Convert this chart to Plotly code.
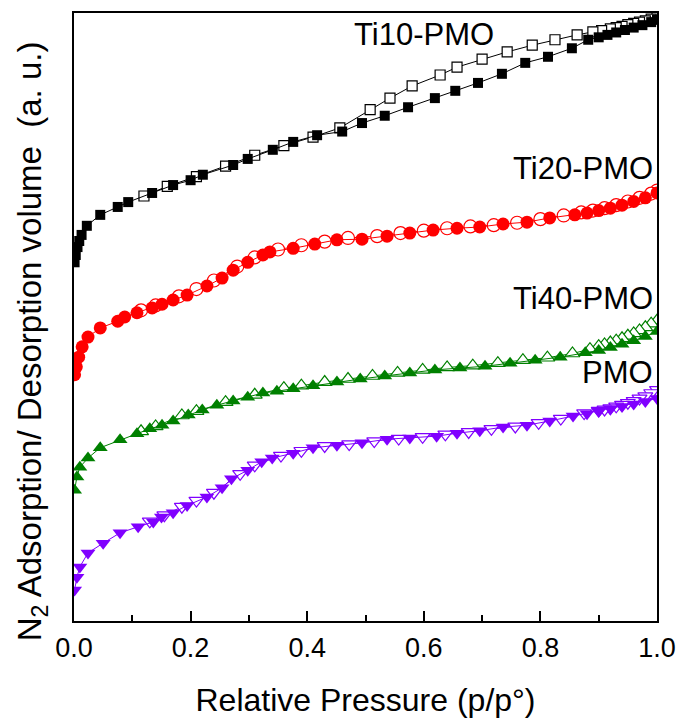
import plotly.graph_objects as go

# Relative pressure (p/p0) and volume (a.u., curves offset for display)
ti10_ads_p = [0.001, 0.003, 0.006, 0.009, 0.013, 0.022, 0.045, 0.075, 0.093, 0.134, 0.17, 0.2, 0.221, 0.273, 0.298,
              0.341, 0.376, 0.417, 0.46, 0.494, 0.533, 0.573, 0.619, 0.654, 0.693, 0.734, 0.774, 0.813, 0.854, 0.882,
              0.9, 0.915, 0.93, 0.945, 0.96, 0.975, 0.99, 1.0]
ti10_ads_v = [59.0, 60.2, 61.5, 62.5, 63.5, 65.0, 66.8, 68.1, 68.9, 70.4, 71.7, 72.5, 73.4, 75.0, 76.0,
              77.5, 78.8, 79.9, 80.5, 81.9, 83.1, 84.5, 86.0, 87.2, 88.5, 90.0, 91.8, 92.8, 94.2, 95.6,
              96.0, 96.4, 96.8, 97.2, 97.6, 98.0, 98.5, 98.9]
ti10_des_p = [1.0, 0.99, 0.98, 0.97, 0.96, 0.95, 0.94, 0.93, 0.92, 0.905, 0.89, 0.863, 0.825, 0.786, 0.743, 0.70,
              0.657, 0.628, 0.58, 0.542, 0.508, 0.456, 0.41, 0.36, 0.31, 0.26, 0.21, 0.16, 0.12]
ti10_des_v = [99.3, 99.0, 98.7, 98.5, 98.3, 98.1, 97.8, 97.6, 97.4, 97.1, 96.9, 96.4, 95.6, 94.7, 93.6, 92.4,
              91.1, 89.8, 88.0, 86.0, 84.1, 81.1, 79.6, 78.2, 76.6, 74.8, 73.1, 71.5, 69.9]

ti20_ads_p = [0.001, 0.004, 0.008, 0.014, 0.024, 0.045, 0.075, 0.087, 0.108, 0.134, 0.151, 0.17, 0.194, 0.228,
              0.254, 0.273, 0.298, 0.324, 0.336, 0.376, 0.413, 0.451, 0.494, 0.537, 0.576, 0.616, 0.657, 0.696,
              0.736, 0.777, 0.816, 0.859, 0.88, 0.9, 0.92, 0.94, 0.96, 0.98, 1.0]
ti20_ads_v = [40.5, 41.8, 43.4, 45.1, 46.7, 48.2, 49.3, 50.0, 50.7, 51.5, 52.1, 52.8, 53.6, 55.1,
              56.4, 57.7, 59.0, 60.2, 60.7, 61.3, 62.0, 62.7, 62.8, 63.3, 63.8, 64.3, 64.6, 64.8,
              65.3, 65.6, 66.3, 66.8, 67.1, 67.5, 67.9, 68.4, 69.0, 69.6, 70.4]
ti20_des_p = [1.0, 0.99, 0.97, 0.95, 0.93, 0.91, 0.89, 0.87, 0.84, 0.8, 0.76, 0.72, 0.68, 0.64, 0.6, 0.56,
              0.52, 0.47, 0.43, 0.39, 0.35, 0.31, 0.28, 0.24, 0.21, 0.18, 0.14, 0.115]
ti20_des_v = [70.8, 70.3, 69.6, 69.0, 68.4, 67.9, 67.5, 67.2, 66.7, 66.1, 65.5, 65.1, 64.9, 64.6, 64.2, 63.8,
              63.3, 63.0, 62.4, 61.8, 61.1, 59.8, 58.3, 56.0, 54.6, 53.4, 51.9, 51.1]

ti40_ads_p = [0.001, 0.005, 0.01, 0.024, 0.045, 0.079, 0.108, 0.13, 0.151, 0.17, 0.196, 0.22, 0.245, 0.273,
              0.298, 0.324, 0.348, 0.376, 0.41, 0.451, 0.491, 0.533, 0.576, 0.619, 0.662, 0.705, 0.748, 0.791,
              0.834, 0.877, 0.9, 0.92, 0.94, 0.96, 0.98, 1.0]
ti40_ads_v = [21.5, 23.7, 25.3, 26.8, 28.5, 29.8, 30.8, 31.6, 32.2, 32.9, 33.9, 34.7, 35.5, 36.2,
              36.8, 37.5, 37.8, 38.2, 38.7, 39.3, 39.8, 40.3, 40.8, 41.3, 41.6, 41.9, 42.4, 42.9,
              43.4, 44.1, 44.5, 45.0, 45.5, 46.1, 46.8, 47.6]
ti40_des_p = [1.0, 0.99, 0.98, 0.97, 0.96, 0.95, 0.94, 0.93, 0.92, 0.91, 0.9, 0.885, 0.855, 0.812, 0.77, 0.727,
              0.684, 0.64, 0.598, 0.555, 0.512, 0.47, 0.43, 0.39, 0.36, 0.31, 0.26, 0.21, 0.185, 0.14, 0.115]
ti40_des_v = [49.4, 48.9, 48.3, 47.8, 47.3, 46.9, 46.5, 46.1, 45.8, 45.5, 45.2, 44.7, 44.0, 43.3, 42.9, 42.4,
              42.0, 41.7, 41.3, 40.8, 40.3, 39.8, 39.3, 38.7, 38.3, 37.2, 36.0, 34.5, 33.8, 32.0, 31.2]

pmo_ads_p = [0.001, 0.005, 0.01, 0.024, 0.05, 0.079, 0.11, 0.136, 0.15, 0.17, 0.194, 0.228, 0.254, 0.27,
             0.298, 0.322, 0.34, 0.376, 0.41, 0.451, 0.494, 0.537, 0.576, 0.622, 0.657, 0.696, 0.736, 0.777,
             0.816, 0.856, 0.88, 0.9, 0.92, 0.94, 0.96, 0.98, 1.0]
pmo_ads_v = [5.1, 7.2, 8.9, 11.2, 12.8, 14.5, 15.5, 16.3, 17.1, 17.8, 19.0, 20.4, 21.9, 23.4,
             24.8, 26.2, 26.8, 27.6, 28.5, 28.9, 29.3, 29.9, 30.1, 30.4, 30.9, 31.3, 31.9, 32.2,
             32.9, 33.7, 34.1, 34.5, 34.9, 35.3, 35.7, 36.1, 36.6]
pmo_des_p = [1.0, 0.99, 0.98, 0.97, 0.96, 0.95, 0.94, 0.93, 0.92, 0.91, 0.9, 0.875, 0.835, 0.797, 0.757, 0.716,
             0.677, 0.637, 0.598, 0.557, 0.515, 0.472, 0.43, 0.39, 0.355, 0.31, 0.285, 0.24, 0.21, 0.185, 0.155, 0.13]
pmo_des_v = [38.0, 37.5, 37.0, 36.6, 36.2, 35.9, 35.6, 35.3, 35.0, 34.8, 34.6, 34.2, 33.3, 32.6, 32.0, 31.6,
             31.1, 30.7, 30.3, 30.0, 29.6, 29.1, 28.8, 28.0, 27.2, 25.6, 24.2, 21.1, 19.8, 18.8, 17.4, 16.4]

labels = ["Ti10-PMO", "Ti20-PMO", "Ti40-PMO", "PMO"]
label_pos = [(0.6, 96.4, "center"), (0.997, 74.5, "right"), (0.997, 53.1, "right"), (0.997, 40.8, "right")]

series = [
    (ti10_ads_p, ti10_ads_v, ti10_des_p, ti10_des_v, "#000000", "square", 10),
    (ti20_ads_p, ti20_ads_v, ti20_des_p, ti20_des_v, "#ff0000", "circle", 13),
    (ti40_ads_p, ti40_ads_v, ti40_des_p, ti40_des_v, "#008000", "triangle-up", 13),
    (pmo_ads_p, pmo_ads_v, pmo_des_p, pmo_des_v, "#8000ff", "triangle-down", 13),
]

fig = go.Figure()
for (ap, av, dp, dv, col, sym, sz), name in zip(series, labels):
    fig.add_trace(go.Scatter(x=dp, y=dv, mode="lines+markers", name=name + " desorption",
                             line=dict(color=col, width=1),
                             marker=dict(symbol=sym, size=sz, color="white", line=dict(color=col, width=1.2)),
                             showlegend=False))
    fig.add_trace(go.Scatter(x=ap, y=av, mode="lines+markers", name=name + " adsorption",
                             line=dict(color=col, width=1),
                             marker=dict(symbol=sym, size=sz, color=col, line=dict(color=col, width=0)),
                             showlegend=False))

for name, (lx, ly, al) in zip(labels, label_pos):
    fig.add_annotation(x=lx, y=ly, xref="x", yref="y", text=name, showarrow=False,
                       xanchor=al, yanchor="middle", font=dict(size=31, color="black"))

fig.add_annotation(x=-0.072, y=0.46, xref="paper", yref="paper", textangle=-90,
                   text="N<sub>2</sub> Adsorption/ Desorption volume&nbsp; (a. u.)",
                   showarrow=False, xanchor="center", yanchor="middle",
                   font=dict(size=33, color="black"))

fig.update_layout(
    width=679, height=718,
    margin=dict(l=74, r=22, t=13, b=97, autoexpand=False),
    paper_bgcolor="white", plot_bgcolor="white",
    font=dict(family="Arial, Liberation Sans, sans-serif", color="black"),
    xaxis=dict(range=[0, 1], tickvals=[0, 0.2, 0.4, 0.6, 0.8, 1.0],
               ticktext=["0.0", "0.2", "0.4", "0.6", "0.8", "1.0"],
               ticks="inside", ticklen=10, tickwidth=2, tickcolor="black",
               minor=dict(dtick=0.1, ticks="inside", ticklen=6, tickwidth=2, tickcolor="black"),
               showline=True, linecolor="black", linewidth=2, mirror=True, automargin=False,
               showgrid=False, zeroline=False, tickfont=dict(size=27), ticklabelstandoff=2,
               title=dict(text="Relative Pressure (p/p°)", font=dict(size=32), standoff=30)),
    yaxis=dict(range=[0, 100], showticklabels=False, ticks="", automargin=False,
               showline=True, linecolor="black", linewidth=2, mirror=True,
               showgrid=False, zeroline=False),
)

fig.write_html("out.html")
